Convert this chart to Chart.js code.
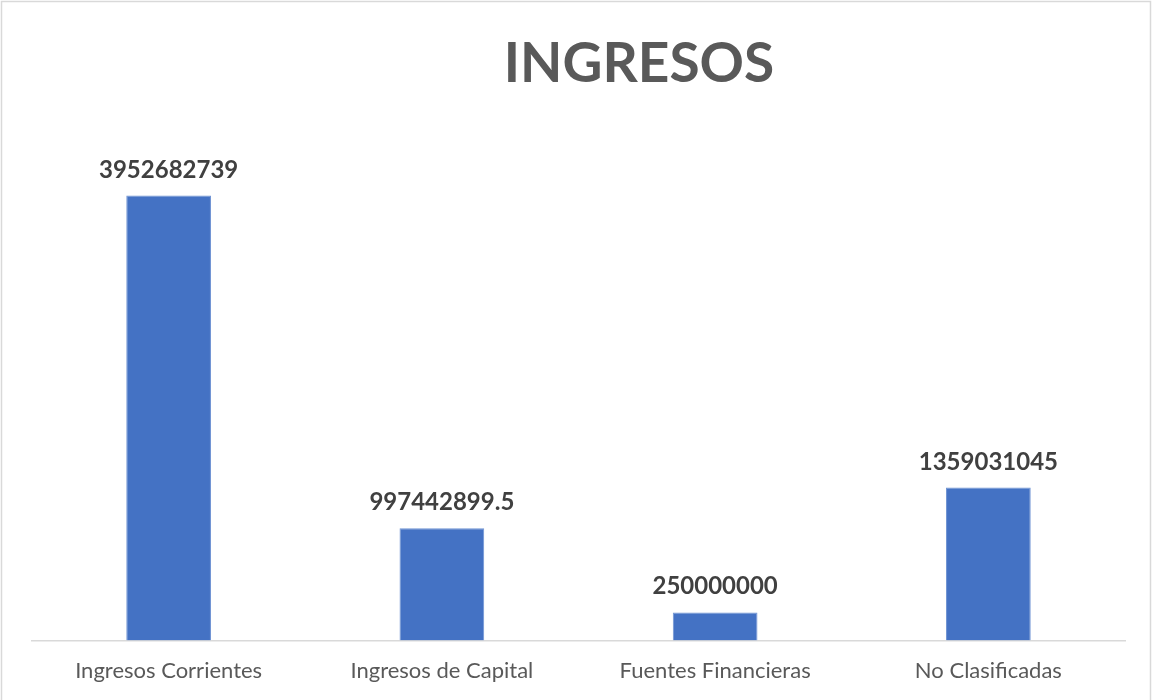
<!DOCTYPE html>
<html>
<head>
<meta charset="utf-8">
<script src="https://cdn.jsdelivr.net/npm/chart.js@4/dist/chart.umd.min.js"></script>
<style>
  body { margin: 0; background: #fff; }
  #wrap { width: 1154px; height: 700px; }
</style>
</head>
<body>
<div id="wrap"><canvas id="myChart" width="1154" height="700"></canvas></div>
<script>
var categories = ['Ingresos Corrientes', 'Ingresos de Capital', 'Fuentes Financieras', 'No Clasificadas'];
var ingresos = [3952682739, 997442899.5, 250000000, 1359031045];
var chartTitle = 'INGRESOS';

// value labels above each bar
var barLabels = {
    id: 'barLabels',
    afterDatasetsDraw: function (chart) {
        var ctx = chart.ctx;
        var meta = chart.getDatasetMeta(0);
        ctx.save();
        ctx.font = 'bold 24px Lato';
        ctx.fillStyle = '#404040';
        ctx.textAlign = 'center';
        ctx.textBaseline = 'alphabetic';
        meta.data.forEach(function (bar, i) {
            ctx.fillText(String(ingresos[i]), bar.x, bar.y - 18);
        });
        ctx.restore();
    }
};

// title and outer frame, like the spreadsheet chart
var frame = {
    id: 'frame',
    afterDraw: function (chart) {
        var ctx = chart.ctx;
        ctx.save();
        ctx.strokeStyle = '#d9d9d9';
        ctx.lineWidth = 1.5;
        ctx.strokeRect(1.5, 1.5, 1149, 720);
        ctx.font = 'bold 55px Lato';
        ctx.fillStyle = '#595959';
        ctx.textAlign = 'center';
        ctx.textBaseline = 'middle';
        ctx.fillText(chartTitle, 639, 64);
        ctx.restore();
    }
};

var ctx = document.getElementById('myChart').getContext('2d');
var myChart = new Chart(ctx, {
    type: 'bar',
    data: {
        labels: categories,
        datasets: [{
            label: 'Ingresos',
            data: ingresos,
            backgroundColor: '#4472c4',
            borderColor: '#6f93d3',
            borderWidth: 1,
            categoryPercentage: 1,
            barPercentage: 0.31
        }]
    },
    options: {
        responsive: false,
        animation: false,
        layout: {
            padding: { top: 134, left: 32, right: 29, bottom: 7 }
        },
        plugins: {
            legend: { display: false },
            title: { display: false },
            tooltip: { enabled: false }
        },
        scales: {
            x: {
                grid: { display: false },
                border: { display: true, color: '#d9d9d9', width: 1.5 },
                ticks: {
                    color: '#595959',
                    font: { family: 'Lato', size: 22 },
                    padding: 9,
                    maxRotation: 0
                }
            },
            y: {
                display: false,
                min: 0,
                max: 4500000000
            }
        }
    },
    plugins: [barLabels, frame]
});
</script>
</body>
</html>
